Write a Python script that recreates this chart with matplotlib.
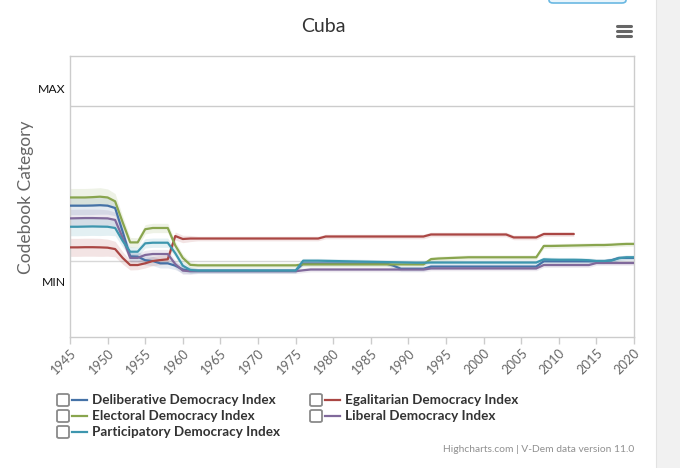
import numpy as np
import matplotlib
matplotlib.use('Agg')
import matplotlib.pyplot as plt
from matplotlib.patches import FancyBboxPatch, Rectangle
from matplotlib.lines import Line2D

plt.rcParams['font.family'] = ['Lato', 'DejaVu Sans']

# ---------------- data ----------------
years = list(range(1945, 2021))
nan = float('nan')

deliberative = [
    0.357, 0.357, 0.357, 0.358, 0.360, 0.357, 0.342, 0.190, 0.030, 0.028,
    0.005, 0.000, -0.015, -0.015, -0.030, -0.055, -0.062, -0.062, -0.062, -0.062,
    -0.062, -0.062, -0.062, -0.062, -0.062, -0.062, -0.062, -0.062, -0.062, -0.062,
    -0.062, -0.016, -0.016, -0.016, -0.016, -0.016, -0.016, -0.016, -0.016, -0.016,
    -0.016, -0.016, -0.016, -0.030, -0.050, -0.050, -0.050, -0.050, -0.036, -0.036,
    -0.036, -0.036, -0.036, -0.036, -0.036, -0.036, -0.036, -0.036, -0.036, -0.036,
    -0.036, -0.036, -0.036, -0.002, -0.002, -0.002, -0.002, -0.002, -0.002, -0.002,
    -0.002, -0.002, 0.005, 0.020, 0.020, 0.020,
]
electoral = [
    0.410, 0.410, 0.410, 0.412, 0.415, 0.410, 0.385, 0.250, 0.120, 0.120,
    0.205, 0.213, 0.213, 0.213, 0.100, 0.020, -0.025, -0.028, -0.028, -0.028,
    -0.028, -0.028, -0.028, -0.028, -0.028, -0.028, -0.028, -0.028, -0.028, -0.028,
    -0.028, -0.022, -0.022, -0.022, -0.022, -0.022, -0.022, -0.022, -0.022, -0.022,
    -0.022, -0.022, -0.022, -0.022, -0.022, -0.022, -0.022, -0.022, 0.012, 0.016,
    0.018, 0.020, 0.022, 0.024, 0.024, 0.024, 0.024, 0.024, 0.024, 0.024,
    0.024, 0.024, 0.024, 0.097, 0.097, 0.098, 0.099, 0.100, 0.101, 0.102,
    0.103, 0.103, 0.105, 0.108, 0.110, 0.110,
]
participatory = [
    0.221, 0.221, 0.222, 0.223, 0.222, 0.221, 0.213, 0.130, 0.060, 0.060,
    0.114, 0.118, 0.118, 0.118, 0.050, -0.030, -0.058, -0.062, -0.062, -0.062,
    -0.062, -0.062, -0.062, -0.062, -0.062, -0.062, -0.062, -0.062, -0.062, -0.062,
    -0.062, 0.002, 0.002, 0.002, 0.001, 0.000, -0.001, -0.002, -0.003, -0.004,
    -0.005, -0.006, -0.007, -0.008, -0.009, -0.010, -0.011, -0.011, -0.010, -0.010,
    -0.010, -0.010, -0.010, -0.010, -0.010, -0.010, -0.010, -0.010, -0.010, -0.010,
    -0.010, -0.010, -0.010, 0.011, 0.009, 0.008, 0.008, 0.008, 0.007, 0.005,
    0.000, 0.000, 0.003, 0.018, 0.024, 0.024,
]
egalitarian = [
    0.088, 0.088, 0.089, 0.089, 0.088, 0.086, 0.077, 0.020, -0.026, -0.026,
    -0.015, 0.000, 0.006, 0.011, 0.161, 0.142, 0.145, 0.145, 0.145, 0.145,
    0.145, 0.145, 0.145, 0.145, 0.145, 0.145, 0.145, 0.145, 0.145, 0.145,
    0.145, 0.145, 0.145, 0.145, 0.158, 0.158, 0.158, 0.158, 0.158, 0.158,
    0.158, 0.158, 0.158, 0.158, 0.158, 0.158, 0.158, 0.158, 0.171, 0.171,
    0.171, 0.171, 0.171, 0.171, 0.171, 0.171, 0.171, 0.171, 0.171, 0.152,
    0.152, 0.152, 0.152, 0.174, 0.174, 0.174, 0.174, 0.174, nan, nan,
    nan, nan, nan, nan, nan, nan,
]
liberal = [
    0.275, 0.276, 0.277, 0.277, 0.276, 0.275, 0.265, 0.150, 0.020, 0.020,
    0.039, 0.045, 0.045, 0.045, -0.020, -0.062, -0.066, -0.066, -0.066, -0.066,
    -0.066, -0.066, -0.066, -0.066, -0.066, -0.066, -0.066, -0.066, -0.066, -0.066,
    -0.066, -0.060, -0.055, -0.055, -0.055, -0.055, -0.055, -0.055, -0.055, -0.055,
    -0.055, -0.055, -0.055, -0.055, -0.055, -0.055, -0.055, -0.055, -0.048, -0.048,
    -0.048, -0.048, -0.048, -0.048, -0.048, -0.048, -0.048, -0.048, -0.048, -0.048,
    -0.048, -0.048, -0.048, -0.026, -0.026, -0.026, -0.026, -0.026, -0.026, -0.026,
    -0.013, -0.013, -0.013, -0.013, -0.013, -0.013,
]
# half-width of the shaded uncertainty bands
band = [
    0.058, 0.058, 0.058, 0.058, 0.058, 0.055, 0.050, 0.040, 0.032, 0.030,
    0.030, 0.030, 0.030, 0.030, 0.026, 0.024, 0.020, 0.015, 0.015, 0.015,
    0.015, 0.015, 0.015, 0.015, 0.015, 0.015, 0.015, 0.015, 0.015, 0.015,
    0.015, 0.015, 0.015, 0.015, 0.015, 0.015, 0.015, 0.015, 0.015, 0.015,
    0.015, 0.015, 0.015, 0.015, 0.015, 0.015, 0.015, 0.015, 0.015, 0.015,
    0.015, 0.015, 0.015, 0.015, 0.015, 0.015, 0.015, 0.015, 0.015, 0.015,
    0.015, 0.015, 0.015, 0.015, 0.015, 0.015, 0.015, 0.015, 0.015, 0.015,
    0.015, 0.015, 0.015, 0.015, 0.015, 0.015,
]

series_names = ['Deliberative Democracy Index', 'Egalitarian Democracy Index',
                'Electoral Democracy Index', 'Liberal Democracy Index',
                'Participatory Democracy Index']
series_values = [deliberative, egalitarian, electoral, liberal, participatory]
series_colors = ['#4572A7', '#AA4643', '#89A54E', '#80699B', '#3D96AE']

title = 'Cuba'
y_title = 'Codebook Category'
y_tick_pos = [-0.135, 1.11]
y_tick_labels = ['MIN', 'MAX']
x_ticks = list(range(1945, 2021, 5))
credits = 'Highcharts.com | V-Dem data version 11.0'

# ---------------- figure ----------------
W, H = 680, 468
fig = plt.figure(figsize=(W / 100, H / 100), dpi=100)
fig.patch.set_facecolor('white')


def fx(x):
    return x / W


def fy(y):
    return 1 - y / H


# right grey page strip
fig.patches.append(Rectangle((fx(656), 0), fx(W - 656), 1, transform=fig.transFigure,
                             facecolor='#f1f1f1', edgecolor='none', zorder=0))
fig.add_artist(Line2D([fx(656), fx(656)], [0, 1], color='#e2e2e2', lw=0.8))
# partial blue button at top
fig.patches.append(FancyBboxPatch((fx(549), fy(3)), fx(77), fx(12), transform=fig.transFigure,
                                  boxstyle='round,pad=0,rounding_size=0.006',
                                  facecolor='#e9f5fc', edgecolor='#6ab8e2', lw=1.2, zorder=1))

ax = fig.add_axes([fx(70), fy(337), fx(634 - 70), (337 - 56) / H])
x = np.array(years)
b = np.array(band)
for vals, col in zip(series_values, series_colors):
    v = np.array(vals, dtype=float)
    ax.fill_between(x, v - b, v + b, color=col, alpha=0.14, lw=0, zorder=2)
for vals, col in zip(series_values, series_colors):
    ax.plot(x, np.array(vals, dtype=float), color=col, lw=1.6, zorder=3,
            solid_joinstyle='round', solid_capstyle='round')

ax.axhline(1.0, color='#cccccc', lw=1.0, zorder=1)
ax.axhline(0.0, color='#d8d8d8', lw=1.0, zorder=1)
ax.set_xlim(1945, 2020)
ax.set_ylim((261 - 337) / 155, (261 - 56) / 155)
for s in ax.spines.values():
    s.set_color('#cccccc')
    s.set_linewidth(1.0)
ax.set_yticks(y_tick_pos)
ax.set_yticklabels(y_tick_labels, fontsize=8.8, color='#111111')
ax.tick_params(axis='y', length=0, pad=3)
ax.set_xticks(x_ticks)
ax.set_xticklabels([str(t) for t in x_ticks], rotation=45, ha='right', va='top',
                   rotation_mode='anchor', fontsize=9.3, color='#666666')
ax.tick_params(axis='x', length=5, width=1, color='#cccccc', pad=2)

fig.text(fx(323), fy(27), title, ha='center', va='center', fontsize=14, color='#333333')
fig.text(fx(26), fy(197), y_title, ha='center', va='center', rotation=90,
         fontsize=12.5, color='#666666')

# hamburger icon
for yy in (26, 31, 36):
    fig.add_artist(Line2D([fx(617), fx(631)], [fy(yy), fy(yy)], color='#666666', lw=2.2,
                          solid_capstyle='round'))

# legend
legend_pos = [(57, 400), (310, 400), (57, 416), (310, 416), (57, 432)]
for (lx, ly), name, col in zip(legend_pos, series_names, series_colors):
    fig.patches.append(FancyBboxPatch((fx(lx), fy(ly + 6)), fx(12), 12 / H,
                                      transform=fig.transFigure,
                                      boxstyle='round,pad=0,rounding_size=0.003',
                                      facecolor='white', edgecolor='#8a8a8a', lw=1.3))
    fig.add_artist(Line2D([fx(lx + 15), fx(lx + 30)], [fy(ly), fy(ly)], color=col, lw=1.6))
    fig.text(fx(lx + 35), fy(ly), name, ha='left', va='center', fontsize=9.7,
             fontweight='bold', color='#333333')

fig.text(fx(634), fy(450), credits, ha='right', va='center', fontsize=7.4, color='#909090')

fig.savefig('out.png', dpi=100)
